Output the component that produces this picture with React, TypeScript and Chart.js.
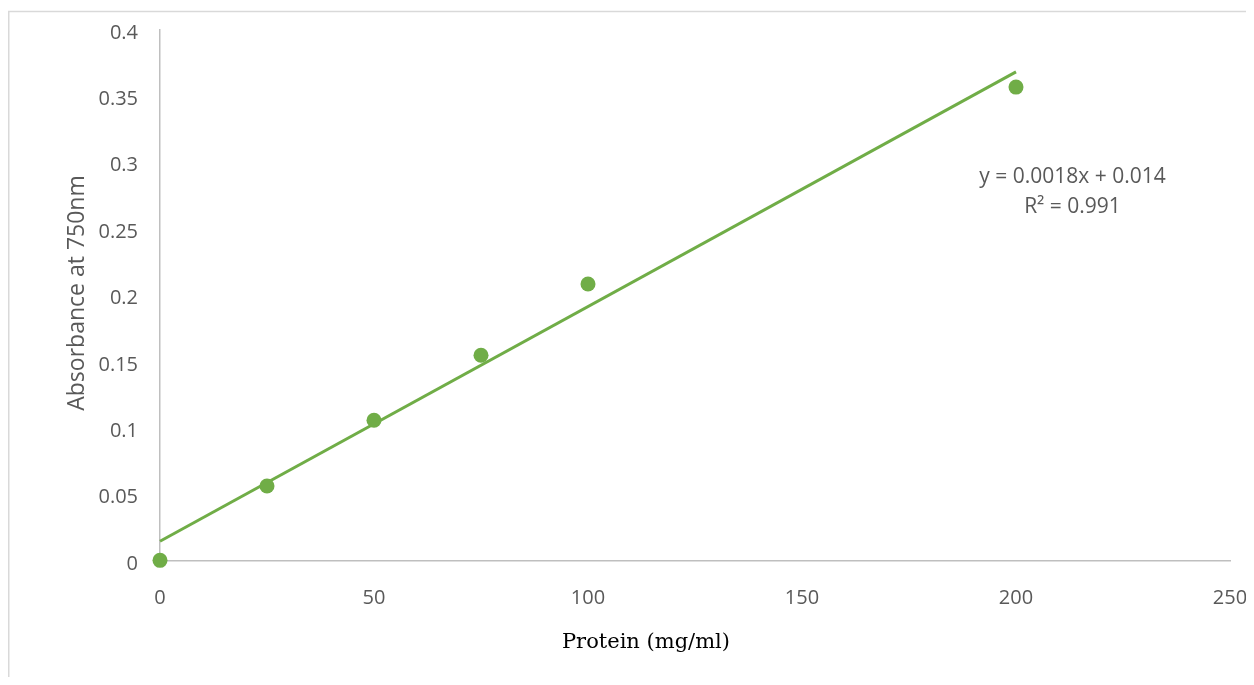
import React, { useEffect, useRef } from "react";
import { Chart, registerables } from "chart.js";

Chart.register(...registerables);

const proteinX = [0, 25, 50, 75, 100, 200];
const absorbanceY = [0.0005, 0.0565, 0.106, 0.155, 0.2087, 0.357];
const trendX = [0, 200];
const trendY = [0.0149, 0.3685];
const xTickValues = [0, 50, 100, 150, 200, 250];
const yTickLabels = ["0", "0.05", "0.1", "0.15", "0.2", "0.25", "0.3", "0.35", "0.4"];
const equationLines = ["y = 0.0018x + 0.014", "R² = 0.991"];
const xTitle = "Protein (mg/ml)";
const yTitle = "Absorbance at 750nm";

const GREEN = "#70ad47";
const GRAY_TEXT = "#595959";
const AXIS = "#bfbfbf";
const TICK_FONT = { family: "'Open Sans'", size: 20 };

const decorPlugin = {
  id: "decor",
  afterDraw(chart: any) {
    const ctx = chart.ctx;
    const { width, height } = chart;
    ctx.save();
    // outer border (top + left visible)
    ctx.strokeStyle = "#d9d9d9";
    ctx.lineWidth = 1.5;
    ctx.beginPath();
    ctx.moveTo(width, 3.5);
    ctx.lineTo(0.75, 3.5);
    ctx.lineTo(0.75, height);
    ctx.stroke();

    // y title
    ctx.fillStyle = GRAY_TEXT;
    ctx.font = "23px 'Open Sans'";
    ctx.textAlign = "center";
    ctx.textBaseline = "middle";
    ctx.save();
    ctx.translate(69, 285);
    ctx.rotate(-Math.PI / 2);
    ctx.fillText(yTitle, 0, 0);
    ctx.restore();

    // x title
    ctx.fillStyle = "#000000";
    ctx.font = "21px 'DejaVu Serif'";
    ctx.fillText(xTitle, 638, 635);

    // equation
    const xs = chart.scales.x;
    const ys = chart.scales.y;
    ctx.fillStyle = GRAY_TEXT;
    ctx.font = "21px 'Open Sans'";
    const cx = xs.getPixelForValue(213.2);
    const cy = ys.getPixelForValue(0.2935) + 6;
    ctx.fillText(equationLines[0], cx, cy);
    ctx.fillText(equationLines[1], cx, cy + 30);
    ctx.restore();
  },
};

function zeroPad(s: any) {
  s.paddingLeft = 0;
  s.paddingRight = 0;
  s.paddingTop = 0;
  s.paddingBottom = 0;
}

export default function App() {
  const ref = useRef<HTMLCanvasElement>(null);
  useEffect(() => {
    if (!ref.current) return;
    const chart = new Chart(ref.current, {
      type: "scatter",
      data: {
        datasets: [
          {
            type: "line",
            label: "Trend",
            data: trendX.map((x, i) => ({ x, y: trendY[i] })),
            borderColor: GREEN,
            borderWidth: 3,
            pointRadius: 0,
            fill: false,
            clip: false,
            order: 2,
          },
          {
            label: "Absorbance",
            data: proteinX.map((x, i) => ({ x, y: absorbanceY[i] })),
            backgroundColor: GREEN,
            borderColor: GREEN,
            pointRadius: 7.5,
            pointBorderWidth: 0,
            clip: false,
            order: 1,
          },
        ] as any,
      },
      options: {
        animation: false,
        responsive: false,
        layout: { padding: { left: 0, right: 16, top: 22, bottom: 0 } },
        plugins: {
          legend: { display: false },
          tooltip: { enabled: false },
        },
        scales: {
          x: {
            type: "linear",
            min: 0,
            max: 250,
            afterBuildTicks: (s: any) => {
              s.ticks = xTickValues.map((v) => ({ value: v }));
            },
            afterFit: (s: any) => {
              s.height = 116;
              zeroPad(s);
            },
            grid: { display: false, drawTicks: false },
            border: { color: AXIS, width: 1.5 },
            ticks: {
              color: GRAY_TEXT,
              font: TICK_FONT,
              padding: 25,
              maxRotation: 0,
              callback: (v: any) => String(v),
            },
          },
          y: {
            type: "linear",
            min: 0,
            max: 0.4,
            afterBuildTicks: (s: any) => {
              s.ticks = yTickLabels.map((l) => ({ value: parseFloat(l) }));
            },
            afterFit: (s: any) => {
              s.width = 152;
              zeroPad(s);
            },
            grid: { display: false, drawTicks: false },
            border: { color: AXIS, width: 1.5 },
            ticks: {
              color: GRAY_TEXT,
              font: TICK_FONT,
              padding: 22,
              labelOffset: 3,
              callback: (_v: any, i: number) => yTickLabels[i],
            },
          },
        },
      },
      plugins: [decorPlugin],
    });
    return () => chart.destroy();
  }, []);
  return (
    <div style={{ width: 1238, height: 669 }}>
      <canvas ref={ref} width={1238} height={669} style={{ display: "block" }} />
    </div>
  );
}
